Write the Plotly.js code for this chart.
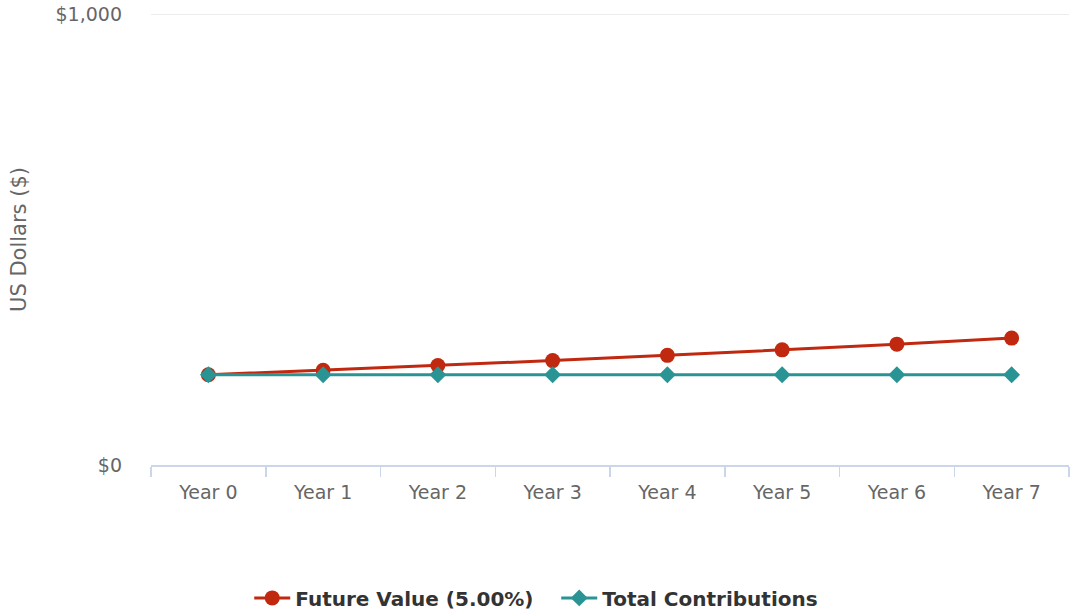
<!DOCTYPE html>
<html><head><meta charset="utf-8">
<script src="https://cdn.plot.ly/plotly-3.0.1.min.js"></script>
<style>body{margin:0;background:#fff}#c{width:1071px;height:612px}</style>
</head><body><div id="c"></div>
<script>
const categories = ["Year 0","Year 1","Year 2","Year 3","Year 4","Year 5","Year 6","Year 7"];
const futureValue = [200, 210, 220.5, 231.5, 243.1, 255.3, 268.0, 281.4];
const totalContributions = [200, 200, 200, 200, 200, 200, 200, 200];
const yTickVals = [0, 1000];
const yTickText = ["$0", "$1,000"];

const font = "DejaVu Sans, Verdana, sans-serif";
const traces = [
  {x: categories, y: futureValue, name: "Future Value (5.00%)", type: "scatter", mode: "lines+markers",
   line: {color: "#c0280f", width: 3}, marker: {symbol: "circle", size: 15, color: "#c0280f"}},
  {x: categories, y: totalContributions, name: "Total Contributions", type: "scatter", mode: "lines+markers",
   line: {color: "#2a9494", width: 3}, marker: {symbol: "diamond", size: 13, color: "#2a9494"}}
];
const layout = {
  width: 1071, height: 612,
  margin: {l: 151, r: 2, t: 14, b: 147, autoexpand: false},
  paper_bgcolor: "#fff", plot_bgcolor: "#fff",
  font: {family: font, color: "#666", size: 19},
  showlegend: true,
  legend: {orientation: "h", x: 0.107, xanchor: "left", yref: "container", y: 0.023, yanchor: "middle",
           entrywidth: 256, itemwidth: 36,
           font: {family: font, size: 20, color: "#333", weight: "bold"}, traceorder: "normal"},
  xaxis: {type: "category", range: [-0.5, 7.5], showgrid: false, zeroline: false,
          showline: true, linecolor: "#ccd6eb", linewidth: 1.5,
          ticks: "outside", ticklen: 10, tickcolor: "#ccd6eb", tickwidth: 1.5,
          tickson: "boundaries", ticklabelstandoff: 10, tickfont: {size: 19, color: "#666"}, fixedrange: true},
  yaxis: {range: [0, 1000], tickvals: yTickVals, ticktext: yTickText, showgrid: true,
          gridcolor: "#e6e6e6", zeroline: false, showline: false, ticks: "",
          ticklabelstandoff: 28, tickfont: {size: 19, color: "#666"},
          title: {text: "US Dollars ($)", font: {size: 21, color: "#666"}, standoff: 23}, fixedrange: true},
  shapes: [{type: "line", xref: "paper", yref: "y", x0: 0, x1: 1, y0: 1000, y1: 1000,
            line: {color: "#e6e6e6", width: 1.5}, layer: "below"}]
};
Plotly.newPlot("c", traces, layout, {displayModeBar: false, staticPlot: true});
</script></body></html>
